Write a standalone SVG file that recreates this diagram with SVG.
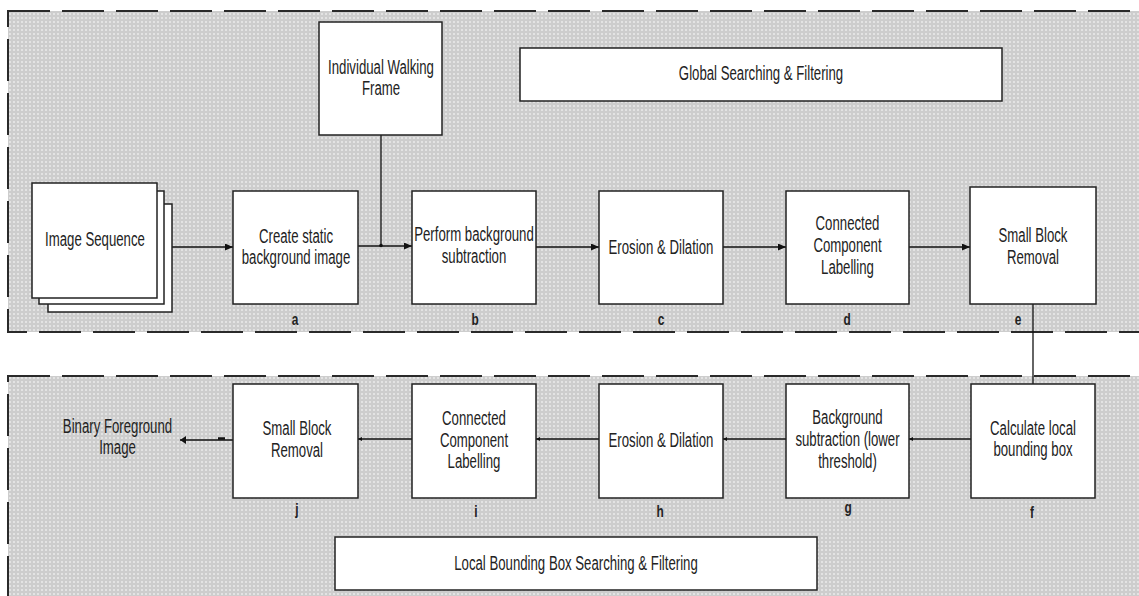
<svg xmlns="http://www.w3.org/2000/svg" width="1139" height="596" viewBox="0 0 1139 596">
  <defs>
    <!-- dotted grey fill of the two processing stages -->
    <pattern id="dots" width="4" height="4" patternUnits="userSpaceOnUse">
      <rect width="4" height="4" fill="#cdcdcd"/>
      <rect x="1" y="1" width="2" height="2" fill="#e3e3e3"/>
    </pattern>
    <marker id="head" viewBox="0 0 8 7" refX="8" refY="3.5" markerWidth="8" markerHeight="7" markerUnits="userSpaceOnUse" orient="auto">
      <path d="M0,0 L8,3.5 L0,7 z" fill="#111"/>
    </marker>
    <marker id="headSmall" viewBox="0 0 4 4" refX="4" refY="2" markerWidth="4" markerHeight="4" markerUnits="userSpaceOnUse" orient="auto">
      <path d="M0,0 L4,2 L0,4 z" fill="#111"/>
    </marker>
    <marker id="headMid" viewBox="0 0 6 8" refX="6" refY="4" markerWidth="6" markerHeight="8" markerUnits="userSpaceOnUse" orient="auto">
      <path d="M0,0 L6,4 L0,8 z" fill="#111"/>
    </marker>
  </defs>
  <style>
    .panel { fill: url(#dots); stroke: #2a2a2a; stroke-width: 2; stroke-dasharray: 42 12; }
    .box { fill: #ffffff; stroke: #222; stroke-width: 1.5; }
    .t { font-family: "Liberation Sans", Arial, sans-serif; font-size: 20px; fill: #222; text-anchor: middle; }
    .lbl { font-family: "Liberation Sans", Arial, sans-serif; font-size: 17px; font-weight: bold; fill: #222; text-anchor: middle; }
    .wire { fill: none; stroke: #111; stroke-width: 1.3; }
  </style>

  <rect width="1139" height="596" fill="#ffffff"/>

  <!-- stage backgrounds -->
  <g id="stage-global">
    <rect class="panel" x="8" y="11" width="1145" height="321"/>
  </g>
  <g id="stage-local">
    <rect class="panel" x="8" y="376" width="1145" height="235"/>
  </g>

  <!-- connectors -->
  <g id="connectors">
    <line class="wire" x1="164" y1="247" x2="233" y2="247" marker-end="url(#head)"/>
    <line class="wire" x1="358" y1="246" x2="412" y2="246" marker-end="url(#head)"/>
    <line class="wire" x1="381" y1="135" x2="381" y2="246"/>
    <circle cx="381" cy="245.5" r="1.8" fill="#111"/>
    <line class="wire" x1="536" y1="247" x2="599" y2="247" marker-end="url(#head)"/>
    <line class="wire" x1="723" y1="247" x2="786" y2="247" marker-end="url(#head)"/>
    <line class="wire" x1="909" y1="247" x2="970" y2="247" marker-end="url(#head)"/>
    <line class="wire" x1="1033" y1="304" x2="1033" y2="384"/>
    <line class="wire" x1="971" y1="439" x2="909" y2="439" marker-end="url(#headSmall)"/>
    <line class="wire" x1="786" y1="439" x2="723" y2="439" marker-end="url(#headSmall)"/>
    <line class="wire" x1="599" y1="439" x2="536" y2="439" marker-end="url(#headSmall)"/>
    <line class="wire" x1="412" y1="439" x2="358" y2="439" marker-end="url(#headSmall)"/>
    <line class="wire" x1="233" y1="440" x2="180" y2="440" marker-end="url(#headMid)"/>
    <line x1="218" y1="438.5" x2="225" y2="438.5" stroke="#111" stroke-width="2.5"/>
  </g>

  <!-- stage titles -->
  <g id="title-global">
    <rect class="box" x="520" y="48" width="482" height="53"/>
    <text class="t" transform="matrix(0.66 0 0 1 761 0)"><tspan x="0" y="80">Global Searching &amp; Filtering</tspan></text>
  </g>
  <g id="title-local">
    <rect class="box" x="335" y="537" width="482" height="53"/>
    <text class="t" transform="matrix(0.66 0 0 1 576 0)"><tspan x="0" y="570">Local Bounding Box Searching &amp; Filtering</tspan></text>
  </g>

  <!-- input frames -->
  <g id="image-sequence">
    <rect class="box" x="48" y="204" width="124" height="108"/>
    <rect class="box" x="39" y="191" width="125" height="113"/>
    <rect class="box" x="32" y="183" width="125" height="115"/>
    <text class="t" transform="matrix(0.66 0 0 1 95 0)"><tspan x="0" y="246">Image Sequence</tspan></text>
  </g>

  <g id="walking-frame">
    <rect class="box" x="319" y="22" width="123" height="113"/>
    <text class="t" transform="matrix(0.66 0 0 1 381 0)"><tspan x="0" y="74">Individual Walking</tspan><tspan x="0" y="95">Frame</tspan></text>
  </g>

  <!-- global stage steps -->
  <g id="step-a">
    <rect class="box" x="233" y="191" width="125" height="113"/>
    <text class="t" transform="matrix(0.66 0 0 1 296 0)"><tspan x="0" y="243">Create static</tspan><tspan x="0" y="264">background image</tspan></text>
    <text class="lbl" transform="matrix(0.7 0 0 1 295 0)"><tspan x="0" y="325">a</tspan></text>
  </g>
  <g id="step-b">
    <rect class="box" x="412" y="191" width="124" height="113"/>
    <text class="t" transform="matrix(0.66 0 0 1 474 0)"><tspan x="0" y="241">Perform background</tspan><tspan x="0" y="263">subtraction</tspan></text>
    <text class="lbl" transform="matrix(0.7 0 0 1 475 0)"><tspan x="0" y="325">b</tspan></text>
  </g>
  <g id="step-c">
    <rect class="box" x="599" y="191" width="124" height="113"/>
    <text class="t" transform="matrix(0.66 0 0 1 661 0)"><tspan x="0" y="254">Erosion &amp; Dilation</tspan></text>
    <text class="lbl" transform="matrix(0.7 0 0 1 661 0)"><tspan x="0" y="325">c</tspan></text>
  </g>
  <g id="step-d">
    <rect class="box" x="786" y="191" width="123" height="113"/>
    <text class="t" transform="matrix(0.66 0 0 1 847.5 0)"><tspan x="0" y="230">Connected</tspan><tspan x="0" y="252">Component</tspan><tspan x="0" y="274">Labelling</tspan></text>
    <text class="lbl" transform="matrix(0.7 0 0 1 847 0)"><tspan x="0" y="325">d</tspan></text>
  </g>
  <g id="step-e">
    <rect class="box" x="970" y="187" width="126" height="117"/>
    <text class="t" transform="matrix(0.66 0 0 1 1033 0)"><tspan x="0" y="242">Small Block</tspan><tspan x="0" y="264">Removal</tspan></text>
    <text class="lbl" transform="matrix(0.7 0 0 1 1018 0)"><tspan x="0" y="325">e</tspan></text>
  </g>

  <!-- local stage steps -->
  <g id="step-f">
    <rect class="box" x="971" y="384" width="124" height="114"/>
    <text class="t" transform="matrix(0.66 0 0 1 1033 0)"><tspan x="0" y="435">Calculate local</tspan><tspan x="0" y="456">bounding box</tspan></text>
    <text class="lbl" transform="matrix(0.7 0 0 1 1032 0)"><tspan x="0" y="518">f</tspan></text>
  </g>
  <g id="step-g">
    <rect class="box" x="786" y="384" width="123" height="114"/>
    <text class="t" transform="matrix(0.66 0 0 1 847.5 0)"><tspan x="0" y="424">Background</tspan><tspan x="0" y="446">subtraction (lower</tspan><tspan x="0" y="468">threshold)</tspan></text>
    <text class="lbl" transform="matrix(0.7 0 0 1 848 0)"><tspan x="0" y="513">g</tspan></text>
  </g>
  <g id="step-h">
    <rect class="box" x="599" y="384" width="124" height="114"/>
    <text class="t" transform="matrix(0.66 0 0 1 661 0)"><tspan x="0" y="447">Erosion &amp; Dilation</tspan></text>
    <text class="lbl" transform="matrix(0.7 0 0 1 660 0)"><tspan x="0" y="517">h</tspan></text>
  </g>
  <g id="step-i">
    <rect class="box" x="412" y="384" width="124" height="114"/>
    <text class="t" transform="matrix(0.66 0 0 1 474 0)"><tspan x="0" y="425">Connected</tspan><tspan x="0" y="447">Component</tspan><tspan x="0" y="468">Labelling</tspan></text>
    <text class="lbl" transform="matrix(0.7 0 0 1 476 0)"><tspan x="0" y="517">i</tspan></text>
  </g>
  <g id="step-j">
    <rect class="box" x="233" y="384" width="125" height="114"/>
    <text class="t" transform="matrix(0.66 0 0 1 297 0)"><tspan x="0" y="435">Small Block</tspan><tspan x="0" y="457">Removal</tspan></text>
    <text class="lbl" transform="matrix(0.7 0 0 1 297 0)"><tspan x="0" y="515">j</tspan></text>
  </g>

  <!-- output -->
  <g id="binary-foreground">
    <text class="t" transform="matrix(0.66 0 0 1 117.5 0)"><tspan x="0" y="433">Binary Foreground</tspan><tspan x="0" y="454">Image</tspan></text>
  </g>
</svg>
